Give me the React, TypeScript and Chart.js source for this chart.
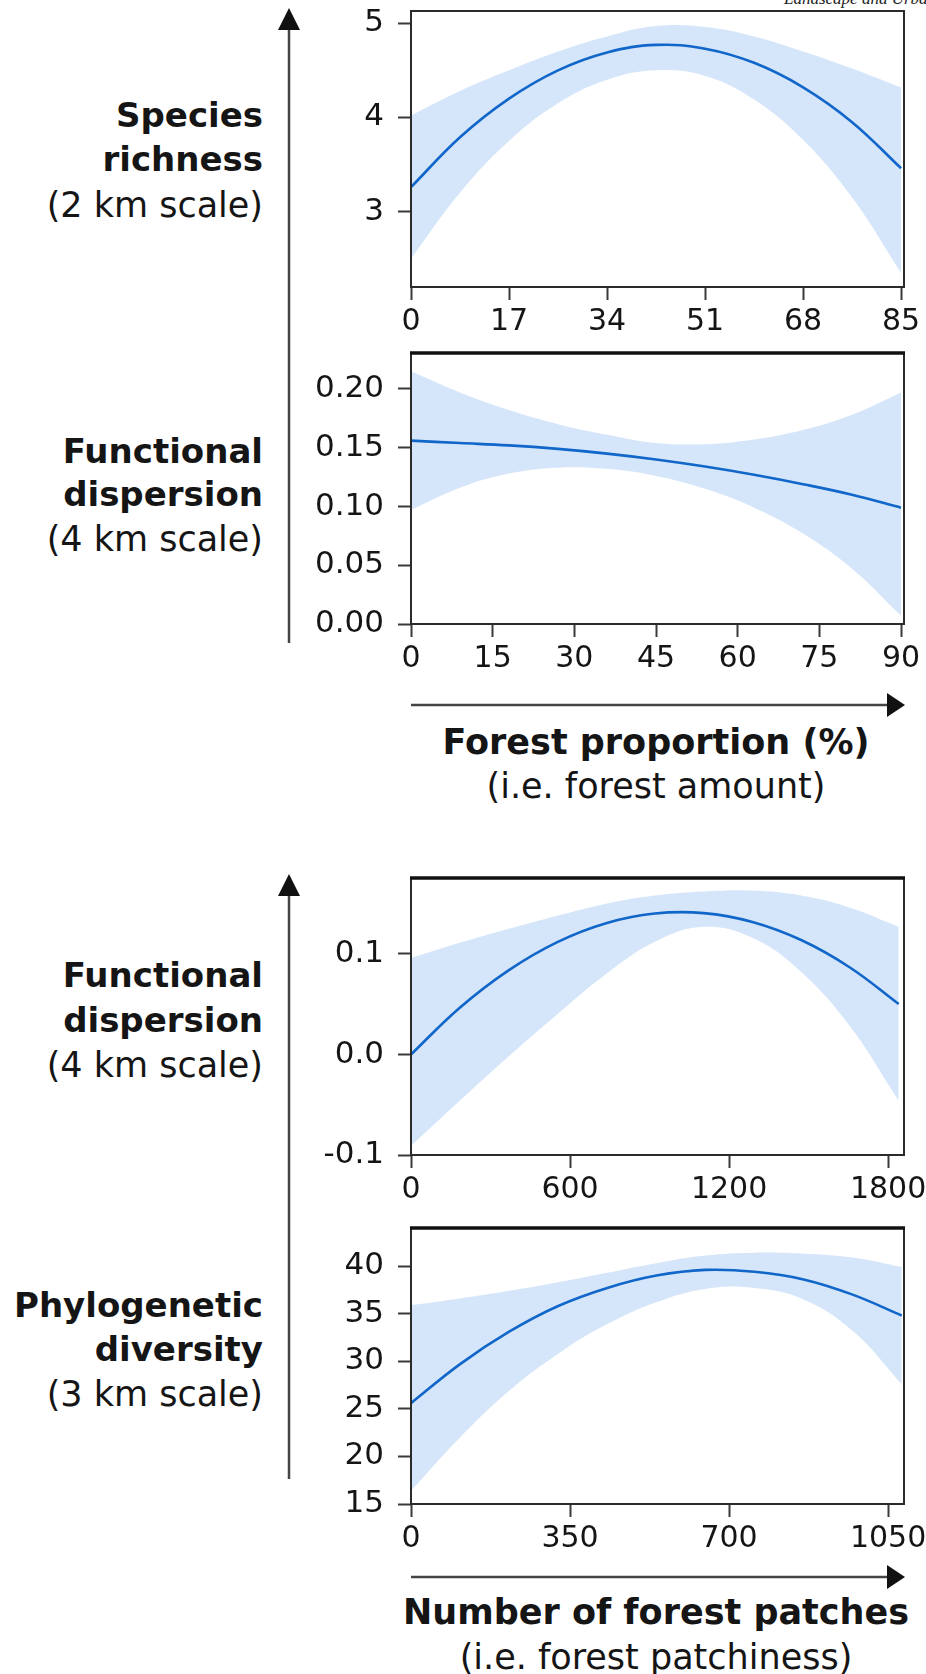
import React, { useEffect, useRef } from "react";
import { Chart, registerables } from "chart.js";

Chart.register(...registerables);

// ---------- Panel 1: species richness (2 km) vs forest proportion ----------
const p1X = [0, 8.5, 17, 25.5, 34, 42.5, 51, 59.5, 68, 76.5, 85];
const p1Fit = [3.26, 3.79, 4.2, 4.5, 4.69, 4.77, 4.73, 4.58, 4.32, 3.95, 3.46];
const p1Upper = [4.02, 4.28, 4.5, 4.7, 4.86, 4.97, 4.96, 4.86, 4.7, 4.52, 4.32];
const p1Lower = [2.5, 3.2, 3.75, 4.15, 4.4, 4.5, 4.44, 4.19, 3.76, 3.15, 2.35];
const p1XTicks = [0, 17, 34, 51, 68, 85];
const p1YTicks = [3, 4, 5];

// ---------- Panel 2: functional dispersion (4 km) vs forest proportion ----------
const p2X = [0, 9, 18, 27, 36, 45, 54, 63, 72, 81, 90];
const p2Fit = [0.156, 0.154, 0.152, 0.149, 0.145, 0.14, 0.134, 0.127, 0.119, 0.11, 0.099];
const p2Upper = [0.215, 0.197, 0.182, 0.17, 0.161, 0.154, 0.153, 0.157, 0.165, 0.178, 0.197];
const p2Lower = [0.097, 0.116, 0.128, 0.133, 0.132, 0.126, 0.115, 0.099, 0.077, 0.047, 0.007];
const p2XTicks = [0, 15, 30, 45, 60, 75, 90];
const p2YTicks = [0, 0.05, 0.1, 0.15, 0.2];

// ---------- Panel 3: functional dispersion (4 km) vs number of forest patches ----------
const p3X = [0, 184, 368, 552, 736, 920, 1104, 1288, 1472, 1656, 1840];
const p3Fit = [0.0, 0.0465, 0.0837, 0.1118, 0.1306, 0.1402, 0.1406, 0.1318, 0.1138, 0.0865, 0.0501];
const p3Upper = [0.096, 0.111, 0.125, 0.138, 0.15, 0.158, 0.162, 0.163, 0.158, 0.146, 0.127];
const p3Lower = [-0.091, -0.046, -0.002, 0.04, 0.08, 0.112, 0.127, 0.116, 0.082, 0.028, -0.046];
const p3XTicks = [0, 600, 1200, 1800];
const p3YTicks = [-0.1, 0.0, 0.1];

// ---------- Panel 4: phylogenetic diversity (3 km) vs number of forest patches ----------
const p4X = [0, 108, 216, 324, 432, 540, 648, 756, 864, 972, 1080];
const p4Fit = [25.6, 29.7, 33.1, 35.8, 37.7, 39.0, 39.6, 39.4, 38.6, 37.0, 34.8];
const p4Upper = [35.9, 36.6, 37.4, 38.3, 39.3, 40.3, 41.1, 41.4, 41.3, 40.9, 39.9];
const p4Lower = [16.4, 22.0, 26.9, 30.8, 33.9, 36.2, 37.6, 37.7, 36.5, 33.2, 27.6];
const p4XTicks = [0, 350, 700, 1050];
const p4YTicks = [15, 20, 25, 30, 35, 40];

const BAND = "#d6e6fa";
const LINE = "#1066c9";
const INK = "#151515";
const FONT = "'DejaVu Sans', Verdana, sans-serif";

type PanelCfg = {
  x: number[];
  fit: number[];
  upper: number[];
  lower: number[];
  xTicks: number[];
  yTicks: number[];
  xMin: number;
  xMax: number;
  yMin: number;
  yMax: number;
  decimals: number;
  top: number;
  height: number;
  areaTop: number;
  areaBottom: number;
  heavyTop: boolean;
};

const CANVAS_LEFT = 300;
const CANVAS_W = 626;
const AREA_LEFT = 411;
const AREA_RIGHT = 904;

const panels: PanelCfg[] = [
  {
    x: p1X, fit: p1Fit, upper: p1Upper, lower: p1Lower, xTicks: p1XTicks, yTicks: p1YTicks,
    xMin: 0, xMax: 85.5, yMin: 2.2, yMax: 5.13, decimals: 0,
    top: 0, height: 345, areaTop: 11, areaBottom: 287, heavyTop: false,
  },
  {
    x: p2X, fit: p2Fit, upper: p2Upper, lower: p2Lower, xTicks: p2XTicks, yTicks: p2YTicks,
    xMin: 0, xMax: 90.55, yMin: 0, yMax: 0.2306, decimals: 2,
    top: 345, height: 335, areaTop: 353, areaBottom: 624, heavyTop: true,
  },
  {
    x: p3X, fit: p3Fit, upper: p3Upper, lower: p3Lower, xTicks: p3XTicks, yTicks: p3YTicks,
    xMin: 0, xMax: 1860, yMin: -0.1, yMax: 0.1755, decimals: 1,
    top: 860, height: 345, areaTop: 878, areaBottom: 1155, heavyTop: true,
  },
  {
    x: p4X, fit: p4Fit, upper: p4Upper, lower: p4Lower, xTicks: p4XTicks, yTicks: p4YTicks,
    xMin: 0, xMax: 1085, yMin: 15, yMax: 44, decimals: 0,
    top: 1205, height: 360, areaTop: 1228, areaBottom: 1504, heavyTop: true,
  },
];

const boxPlugin = {
  id: "frameBox",
  afterDatasetsDraw(chart: any, _args: any, opts: any) {
    const { ctx, chartArea } = chart;
    const { left, right, top, bottom } = chartArea;
    ctx.save();
    ctx.strokeStyle = "#2b2b2b";
    ctx.lineWidth = 2;
    ctx.strokeRect(left, top, right - left, bottom - top);
    if (opts && opts.heavyTop) {
      ctx.strokeStyle = "#111";
      ctx.lineWidth = 3.5;
      ctx.beginPath();
      ctx.moveTo(left - 1, top);
      ctx.lineTo(right + 1, top);
      ctx.stroke();
    }
    ctx.restore();
  },
};

function PanelChart({ cfg }: { cfg: PanelCfg }) {
  const ref = useRef<HTMLCanvasElement>(null);
  useEffect(() => {
    if (!ref.current) return;
    const pts = (ys: number[]) => cfg.x.map((x, i) => ({ x, y: ys[i] }));
    const common = { pointRadius: 0, tension: 0.4 };
    const chart = new Chart(ref.current, {
      type: "line",
      data: {
        datasets: [
          { ...common, data: pts(cfg.fit), borderColor: LINE, borderWidth: 2.6, fill: false },
          { ...common, data: pts(cfg.upper), borderWidth: 0, borderColor: "rgba(0,0,0,0)", backgroundColor: BAND, fill: 2 },
          { ...common, data: pts(cfg.lower), borderWidth: 0, borderColor: "rgba(0,0,0,0)", fill: false },
        ],
      },
      options: {
        responsive: false,
        animation: false,
        devicePixelRatio: 1,
        events: [],
        layout: {
          padding: {
            left: 0,
            right: CANVAS_LEFT + CANVAS_W - AREA_RIGHT,
            top: cfg.areaTop - cfg.top,
            bottom: 0,
          },
        },
        plugins: {
          legend: { display: false },
          tooltip: { enabled: false },
          frameBox: { heavyTop: cfg.heavyTop },
        },
        scales: {
          x: {
            type: "linear",
            min: cfg.xMin,
            max: cfg.xMax,
            afterBuildTicks: (s: any) => {
              s.ticks = cfg.xTicks.map((v) => ({ value: v }));
            },
            afterFit: (s: any) => {
              s.height = cfg.top + cfg.height - cfg.areaBottom;
              s.paddingLeft = 0;
              s.paddingRight = 0;
            },
            border: { display: false },
            grid: { drawOnChartArea: false, drawTicks: true, tickLength: 13, tickWidth: 2, tickColor: "#3a3a3a" },
            ticks: {
              autoSkip: false,
              maxRotation: 0,
              padding: 4,
              color: INK,
              font: { family: FONT, size: 30 },
              callback: (v: any) => String(v),
            },
          },
          y: {
            type: "linear",
            min: cfg.yMin,
            max: cfg.yMax,
            afterBuildTicks: (s: any) => {
              s.ticks = cfg.yTicks.map((v) => ({ value: v }));
            },
            afterFit: (s: any) => {
              s.width = AREA_LEFT - CANVAS_LEFT;
              s.paddingTop = 0;
              s.paddingBottom = 0;
            },
            border: { display: false },
            grid: { drawOnChartArea: false, drawTicks: true, tickLength: 13, tickWidth: 2, tickColor: "#3a3a3a" },
            ticks: {
              autoSkip: false,
              padding: 14,
              color: INK,
              font: { family: FONT, size: 31 },
              callback: (v: any) => Number(v).toFixed(cfg.decimals),
            },
          },
        },
      } as any,
      plugins: [boxPlugin],
    });
    return () => chart.destroy();
  }, [cfg]);
  return (
    <canvas
      ref={ref}
      width={CANVAS_W}
      height={cfg.height}
      style={{ position: "absolute", left: CANVAS_LEFT, top: cfg.top, width: CANVAS_W, height: cfg.height }}
    />
  );
}

// left-hand response labels: [text, bold, centre y]
const leftLabels: [string, boolean, number][] = [
  ["Species", true, 115],
  ["richness", true, 159],
  ["(2 km scale)", false, 205],
  ["Functional", true, 451],
  ["dispersion", true, 494],
  ["(4 km scale)", false, 539],
  ["Functional", true, 975],
  ["dispersion", true, 1020],
  ["(4 km scale)", false, 1065],
  ["Phylogenetic", true, 1305],
  ["diversity", true, 1349],
  ["(3 km scale)", false, 1394],
];

// bottom predictor titles: [text, bold, centre y]
const bottomLabels: [string, boolean, number][] = [
  ["Forest proportion (%)", true, 742],
  ["(i.e. forest amount)", false, 786],
  ["Number of forest patches", true, 1612],
  ["(i.e. forest patchiness)", false, 1657],
];

export default function App() {
  return (
    <div
      style={{
        position: "absolute",
        left: 0,
        top: 0,
        width: 926,
        height: 1674,
        overflow: "hidden",
        background: "#fff",
        fontFamily: FONT,
        color: INK,
      }}
    >
      <div
        style={{
          position: "absolute",
          left: 784,
          top: -11,
          fontFamily: "'Liberation Serif', serif",
          fontStyle: "italic",
          fontSize: 17,
          lineHeight: "20px",
          whiteSpace: "nowrap",
          color: "#222",
        }}
      >
        Landscape and Urban Planning
      </div>

      {panels.map((p, i) => (
        <PanelChart key={i} cfg={p} />
      ))}

      {leftLabels.map(([t, b, y], i) => (
        <div
          key={"l" + i}
          style={{
            position: "absolute",
            left: 0,
            width: 263,
            top: y - 22,
            height: 44,
            lineHeight: "44px",
            textAlign: "right",
            fontWeight: b ? 700 : 400,
            fontSize: b ? 34 : 35,
            whiteSpace: "nowrap",
          }}
        >
          {t}
        </div>
      ))}

      {bottomLabels.map(([t, b, y], i) => (
        <div
          key={"b" + i}
          style={{
            position: "absolute",
            left: 356,
            width: 600,
            top: y - 22,
            height: 44,
            lineHeight: "44px",
            textAlign: "center",
            fontWeight: b ? 700 : 400,
            fontSize: 35,
            whiteSpace: "nowrap",
          }}
        >
          {t}
        </div>
      ))}

      <svg
        width={926}
        height={1674}
        style={{ position: "absolute", left: 0, top: 0, pointerEvents: "none" }}
      >
        <line x1={289} y1={26} x2={289} y2={643} stroke="#454545" strokeWidth={2.5} />
        <polygon points="289,8 278,30 300,30" fill="#111" />
        <line x1={289} y1={893} x2={289} y2={1479} stroke="#454545" strokeWidth={2.5} />
        <polygon points="289,874 278,896 300,896" fill="#111" />
        <line x1={411} y1={705} x2={890} y2={705} stroke="#454545" strokeWidth={2.5} />
        <polygon points="905,705 887,693 887,717" fill="#111" />
        <line x1={411} y1={1577} x2={890} y2={1577} stroke="#454545" strokeWidth={2.5} />
        <polygon points="905,1577 887,1565 887,1589" fill="#111" />
      </svg>
    </div>
  );
}
